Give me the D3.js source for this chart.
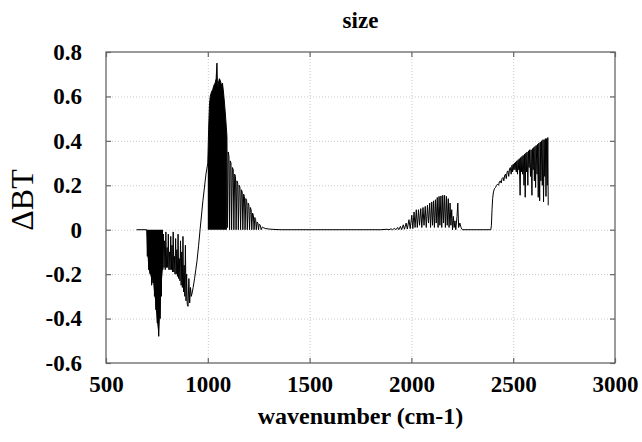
<!DOCTYPE html>
<html>
<head>
<meta charset="utf-8">
<script src="https://cdn.jsdelivr.net/npm/d3@7"></script>
<style>
  body { margin: 0; background: #fff; }
  .grid line { stroke: #c8c8c8; stroke-dasharray: 1,2; }
  .grid path { display: none; }
  .frame-axis path { display: none; }
  .frame-axis line { stroke: #666; stroke-width: 1.2; }
</style>
</head>
<body>
<div id="chart"></div>
<script>
var svgWidth = 642;
var svgHeight = 442;

var margin = {
    top: 52,
    right: 27,
    bottom: 79,
    left: 106
};

var width = svgWidth - margin.left - margin.right;
var height = svgHeight - margin.top - margin.bottom;

// tick values
var xTicks = [500, 1000, 1500, 2000, 2500, 3000];
var yTicks = [-0.6, -0.4, -0.2, 0, 0.2, 0.4, 0.6, 0.8];

// [wavenumber, delta BT], one array per band
// solid black wedge at the start of the longwave band (lower edge)
var lwWedge = [
    [700, 0], [703, -0.1], [707, -0.16], [712, -0.19], [717, -0.2], [722, -0.22],
    [726, -0.25], [730, -0.22], [735, -0.27], [740, -0.31], [745, -0.36], [750, -0.41],
    [755, -0.45], [759, -0.48], [763, -0.42], [767, -0.36], [771, -0.29], [775, -0.22],
    [780, -0.17]
];

var bandLW = [
    [650, 0], [700, 0], [703, -0.12], [706, -0.02], [710, -0.18], [713, -0.01], [717, -0.2],
    [720, -0.03], [724, -0.25], [727, -0.02], [731, -0.24], [734, -0.05], [738, -0.3],
    [741, -0.02], [745, -0.36], [748, -0.04], [752, -0.42], [755, -0.06], [759, -0.48],
    [762, -0.02], [766, -0.4], [769, -0.05], [772, -0.3], [775, -0.01], [779, -0.18],
    [782, -0.02], [785, -0.17], [788, -0.05], [791, -0.18], [794, -0.01], [797, -0.17],
    [800, -0.08], [803, -0.17], [806, -0.02], [809, -0.18], [812, -0.1], [815, -0.18],
    [818, -0.03], [821, -0.18], [824, -0.07], [827, -0.19], [830, -0.01], [833, -0.19],
    [836, -0.12], [839, -0.2], [842, -0.04], [845, -0.2], [848, -0.09], [851, -0.21],
    [854, -0.02], [857, -0.22], [860, -0.13], [863, -0.23], [866, -0.05], [869, -0.25],
    [872, -0.1], [875, -0.26], [878, -0.03], [881, -0.28], [884, -0.16], [887, -0.3],
    [890, -0.07], [893, -0.32], [896, -0.2], [899, -0.335], [903, -0.345], [907, -0.22],
    [911, -0.33], [915, -0.26], [919, -0.3], [923, -0.285], [928, -0.26], [935, -0.22],
    [941, -0.18], [947, -0.14], [955, -0.07], [962, 0], [976, 0.13], [991, 0.25], [1000, 0.3]
];

// solid black peak of the window band
var windowPeak = [
    [1000, 0.3], [1004, 0.45], [1008, 0.56], [1012, 0.6], [1018, 0.62], [1024, 0.63],
    [1030, 0.65], [1036, 0.66], [1041, 0.68], [1045, 0.75], [1048, 0.62], [1052, 0.66],
    [1057, 0.68], [1062, 0.67], [1067, 0.65], [1072, 0.66], [1077, 0.62], [1082, 0.57],
    [1088, 0.5], [1094, 0.42]
];

var windowTail = [
    [1094, 0.42], [1097, 0.01], [1100, 0.35], [1104, 0.33], [1107, 0], [1110, 0.31],
    [1114, 0.3], [1117, 0], [1121, 0.28], [1125, 0.27], [1128, 0], [1132, 0.25],
    [1136, 0.24], [1139, 0], [1143, 0.22], [1147, 0.21], [1150, 0], [1154, 0.2],
    [1158, 0.19], [1161, 0], [1165, 0.18], [1169, 0.17], [1172, 0], [1176, 0.16],
    [1180, 0.15], [1183, 0], [1187, 0.14], [1191, 0.13], [1194, 0], [1198, 0.12],
    [1202, 0.11], [1205, 0], [1209, 0.1], [1213, 0.09], [1216, 0], [1220, 0.075],
    [1224, 0.065], [1227, 0], [1231, 0.055], [1235, 0.045], [1238, 0], [1242, 0.035],
    [1246, 0.03], [1249, 0], [1253, 0.025], [1258, 0.02], [1262, 0], [1268, 0.012],
    [1275, 0.008], [1285, 0.005], [1300, 0.003], [1330, 0.001], [1360, 0], [1850, 0]
];

var bandCO = [
    [1850, 0], [1880, 0.002], [1890, 0], [1900, 0.004], [1908, 0], [1916, 0.006], [1924, 0],
    [1932, 0.01], [1938, 0], [1946, 0.015], [1952, 0], [1960, 0.022], [1966, 0.002],
    [1974, 0.03], [1980, 0.003], [1988, 0.045], [1994, 0.005], [2002, 0.065], [2007, 0.005],
    [2013, 0.08], [2018, 0.01], [2024, 0.09], [2029, 0.01], [2035, 0.09], [2040, 0.02],
    [2046, 0.095], [2051, 0.01], [2057, 0.1], [2062, 0.02], [2068, 0.105], [2073, 0.01],
    [2079, 0.11], [2084, 0.03], [2090, 0.12], [2094, 0.01], [2100, 0.125], [2104, 0.02],
    [2109, 0.13], [2113, 0.01], [2118, 0.135], [2122, 0.03], [2127, 0.145], [2131, 0.01],
    [2136, 0.15], [2140, 0.02], [2145, 0.152], [2149, 0.01], [2154, 0.155], [2158, 0.03],
    [2163, 0.155], [2167, 0.01], [2172, 0.15], [2176, 0.02], [2181, 0.14], [2185, 0.01],
    [2190, 0.12], [2194, 0.02], [2198, 0.09], [2202, 0], [2206, 0.06], [2210, 0.01],
    [2214, 0.04], [2218, 0], [2224, 0.06], [2228, 0.12], [2232, 0.01], [2238, 0.03],
    [2244, 0.01], [2250, 0], [2390, 0]
];

var bandSW = [
    [2390, 0], [2393, 0.02], [2396, 0.09], [2399, 0.14], [2403, 0.17], [2408, 0.185],
    [2413, 0.19], [2418, 0.2], [2423, 0.205], [2428, 0.2], [2432, 0.215], [2437, 0.22],
    [2441, 0.21], [2445, 0.23], [2450, 0.235], [2454, 0.22], [2458, 0.245], [2462, 0.25],
    [2466, 0.23], [2470, 0.26], [2474, 0.265], [2478, 0.24], [2482, 0.275], [2486, 0.28],
    [2490, 0.25], [2494, 0.29], [2497, 0.26], [2500, 0.295], [2503, 0.27], [2506, 0.3],
    [2509, 0.27], [2512, 0.305], [2515, 0.26], [2518, 0.31], [2521, 0.25], [2524, 0.315],
    [2527, 0.27], [2530, 0.32], [2534, 0.155], [2537, 0.325], [2540, 0.26], [2543, 0.33],
    [2546, 0.25], [2549, 0.335], [2553, 0.2], [2556, 0.34], [2559, 0.146], [2562, 0.345],
    [2565, 0.26], [2568, 0.35], [2572, 0.2], [2575, 0.355], [2578, 0.28], [2581, 0.36],
    [2585, 0.24], [2588, 0.36], [2592, 0.155], [2595, 0.365], [2598, 0.27], [2601, 0.37],
    [2604, 0.22], [2607, 0.375], [2610, 0.19], [2613, 0.38], [2617, 0.25], [2620, 0.385],
    [2623, 0.146], [2626, 0.39], [2630, 0.13], [2633, 0.395], [2636, 0.22], [2639, 0.4],
    [2643, 0.2], [2646, 0.405], [2649, 0.125], [2652, 0.405], [2655, 0.24], [2658, 0.41],
    [2661, 0.15], [2664, 0.41], [2667, 0.2], [2670, 0.415], [2672, 0.11]
];

var svg = d3.select("#chart")
    .append("svg")
    .attr("width", svgWidth)
    .attr("height", svgHeight);

var chartGroup = svg.append("g")
    .attr("transform", `translate(${margin.left}, ${margin.top})`);

var xScale = d3.scaleLinear()
    .domain([500, 3000])
    .range([0, width]);

var yScale = d3.scaleLinear()
    .domain([-0.6, 0.8])
    .range([height, 0]);

// dotted grid
chartGroup.append("g")
    .classed("grid", true)
    .attr("transform", `translate(0, ${height})`)
    .call(d3.axisBottom(xScale).tickValues(xTicks.slice(1, -1)).tickSize(-height).tickFormat(""));

chartGroup.append("g")
    .classed("grid", true)
    .call(d3.axisLeft(yScale).tickValues(yTicks.slice(1, -1)).tickSize(-width).tickFormat(""));

// the spectrum
var line = d3.line()
    .x(d => xScale(d[0]))
    .y(d => yScale(d[1]));

var area = d3.area()
    .x(d => xScale(d[0]))
    .y0(yScale(0))
    .y1(d => yScale(d[1]));

[lwWedge, windowPeak].forEach(function(core) {
    chartGroup.append("path")
        .datum(core)
        .attr("d", area)
        .attr("fill", "#000");
});

[bandLW, windowPeak, windowTail, bandCO, bandSW].forEach(function(band) {
    chartGroup.append("path")
        .datum(band)
        .attr("d", line)
        .attr("fill", "none")
        .attr("stroke", "#000")
        .attr("stroke-width", 1)
        .attr("stroke-linejoin", "miter");
});

// frame
chartGroup.append("rect")
    .attr("width", width)
    .attr("height", height)
    .attr("fill", "none")
    .attr("stroke", "#666")
    .attr("stroke-width", 1.3);

// inward ticks on all four sides
var xAxis = chartGroup.append("g")
    .classed("frame-axis", true)
    .attr("transform", `translate(0, ${height})`)
    .call(d3.axisBottom(xScale).tickValues(xTicks).tickSizeInner(-5).tickSizeOuter(0).tickPadding(13)
        .tickFormat(d3.format("d")));

chartGroup.append("g")
    .classed("frame-axis", true)
    .call(d3.axisTop(xScale).tickValues(xTicks).tickSizeInner(-5).tickSizeOuter(0).tickFormat(""));

var yAxis = chartGroup.append("g")
    .classed("frame-axis", true)
    .call(d3.axisLeft(yScale).tickValues(yTicks).tickSizeInner(-5).tickSizeOuter(0).tickPadding(24)
        .tickFormat(d => d === 0 ? "0" : d.toFixed(1)));

chartGroup.append("g")
    .classed("frame-axis", true)
    .attr("transform", `translate(${width}, 0)`)
    .call(d3.axisRight(yScale).tickValues(yTicks).tickSizeInner(-5).tickSizeOuter(0).tickFormat(""));

// bold serif tick labels
[xAxis, yAxis].forEach(function(axis) {
    axis.selectAll("text")
        .style("font-family", "Liberation Serif")
        .style("font-weight", "bold")
        .style("font-size", "23px")
        .style("fill", "#000");
});

// title and axis labels
svg.append("text")
    .attr("x", margin.left + width / 2)
    .attr("y", 28)
    .attr("text-anchor", "middle")
    .style("font-family", "Liberation Serif")
    .style("font-weight", "bold")
    .style("font-size", "23px")
    .text("size");

svg.append("text")
    .attr("x", margin.left + width / 2)
    .attr("y", 424)
    .attr("text-anchor", "middle")
    .style("font-family", "Liberation Serif")
    .style("font-weight", "bold")
    .style("font-size", "24px")
    .text("wavenumber (cm-1)");

svg.append("text")
    .attr("transform", "translate(33, 200) rotate(-90)")
    .attr("text-anchor", "middle")
    .style("font-family", "Liberation Serif")
    .style("font-size", "32px")
    .text("ΔBT");
</script>
</body>
</html>
